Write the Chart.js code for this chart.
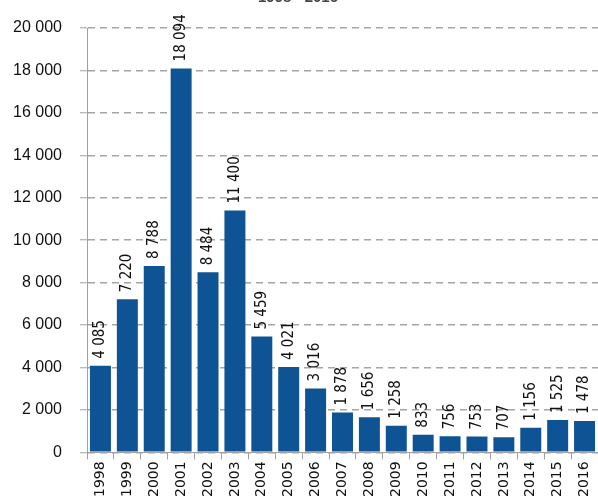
<!DOCTYPE html>
<html lang="en">
<head>
    <meta charset="UTF-8">
    <title>1998 - 2016</title>
    <script src="https://cdn.jsdelivr.net/npm/chart.js@4.4.0/dist/chart.umd.min.js"></script>
    <style>
        html, body { margin: 0; padding: 0; background: #fff; }
        #wrap { position: relative; width: 598px; height: 503px; }
    </style>
</head>
<body>
    <div id="wrap">
        <canvas id="chart-years"></canvas>
    </div>

    <script>
        var years = ['1998', '1999', '2000', '2001', '2002', '2003', '2004', '2005', '2006', '2007',
                     '2008', '2009', '2010', '2011', '2012', '2013', '2014', '2015', '2016'];
        var counts = [4085, 7220, 8788, 18094, 8484, 11400, 5459, 4021, 3016, 1878,
                      1656, 1258, 833, 756, 753, 707, 1156, 1525, 1478];
        var yTicks = [0, 2000, 4000, 6000, 8000, 10000, 12000, 14000, 16000, 18000, 20000];
        var titleText = '1998 - 2016';

        function spaced(n) {
            return String(n).replace(/\B(?=(\d{3})+(?!\d))/g, ' ');
        }

        // value labels, turned up the bar
        var barLabels = {
            id: 'barLabels',
            afterDatasetsDraw: function (chart) {
                const ctx = chart.ctx;
                const meta = chart.getDatasetMeta(0);
                ctx.save();
                ctx.font = '15px "DejaVu Sans Condensed", "DejaVu Sans", sans-serif';
                ctx.fillStyle = '#111';
                ctx.textAlign = 'left';
                ctx.textBaseline = 'middle';
                meta.data.forEach(function (bar, i) {
                    ctx.save();
                    ctx.translate(bar.x, bar.y - 7);
                    ctx.rotate(-Math.PI / 2);
                    ctx.fillText(spaced(counts[i]), 0, 0);
                    ctx.restore();
                });
                ctx.restore();
            }
        };

        // title sits mostly above the picture
        var cutTitle = {
            id: 'cutTitle',
            afterDraw: function (chart) {
                const ctx = chart.ctx;
                ctx.save();
                ctx.font = 'bold 15px "Liberation Sans", sans-serif';
                ctx.fillStyle = '#444';
                ctx.textAlign = 'center';
                ctx.textBaseline = 'alphabetic';
                ctx.fillText(titleText, 298, 2);
                ctx.restore();
            }
        };

        const ctx = document.getElementById('chart-years').getContext('2d');
        const myChart = new Chart(ctx, {
            type: 'bar',
            data: {
                labels: years,
                datasets: [{
                    data: counts,
                    backgroundColor: '#0e5494',
                    borderWidth: 0,
                    barPercentage: 0.78,
                    categoryPercentage: 1
                }]
            },
            options: {
                responsive: true,
                maintainAspectRatio: false,
                animation: false,
                layout: { padding: { top: 28, left: 11, right: 0, bottom: 4 } },
                plugins: {
                    legend: { display: false },
                    tooltip: { enabled: false }
                },
                scales: {
                    x: {
                        offset: true,
                        afterFit: function (axis) {
                            axis.paddingLeft = 0;
                            axis.paddingRight = 0;
                        },
                        grid: {
                            offset: true,
                            drawOnChartArea: false,
                            drawTicks: true,
                            tickLength: 7,
                            tickColor: '#a0a0a0'
                        },
                        border: { color: '#a0a0a0', width: 1 },
                        ticks: {
                            minRotation: 90,
                            maxRotation: 90,
                            autoSkip: false,
                            padding: 2,
                            color: '#111',
                            font: { family: '"DejaVu Sans", sans-serif', size: 14 }
                        }
                    },
                    y: {
                        min: 0,
                        max: 20000,
                        afterBuildTicks: function (axis) {
                            axis.ticks = yTicks.map(function (v) { return { value: v }; });
                        },
                        afterFit: function (axis) {
                            axis.width = 76;
                        },
                        grid: {
                            color: '#a5a5a5',
                            lineWidth: 1.5,
                            tickLength: 7,
                            tickColor: '#a0a0a0',
                            tickWidth: 1
                        },
                        border: { color: '#a0a0a0', width: 1, dash: [7, 5] },
                        ticks: {
                            padding: 18,
                            color: '#111',
                            font: { family: '"Liberation Sans", sans-serif', size: 16 },
                            callback: function (v) { return spaced(v); }
                        }
                    }
                }
            },
            plugins: [barLabels, cutTitle]
        });
    </script>
</body>
</html>
